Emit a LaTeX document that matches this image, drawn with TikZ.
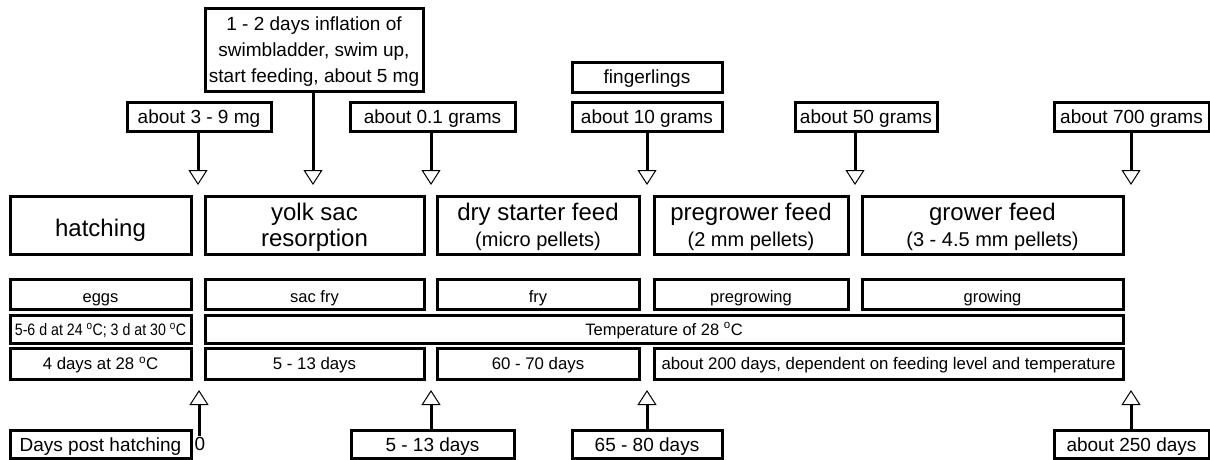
\documentclass[tikz,border=0pt]{standalone}
\usepackage{fontspec}
\usepackage{graphicx}
\setmainfont{Liberation Sans}
\usetikzlibrary{arrows.meta}
\begin{document}
\begin{tikzpicture}[x=1pt,y=-1pt,
  bx/.style={draw,line width=3pt,inner sep=0pt,align=center,fill=white},
  span/.style args={#1/#2/#3/#4}{minimum width={(#3-#1)*1pt},minimum height={(#4-#2)*1pt},at={({(#1+#3)/2},{(#2+#4)/2})}},
  arr/.style={line width=3pt,-{Triangle[open,length=15pt,width=19pt,line width=1pt]}},
  fa/.style={font=\fontsize{19}{26}\selectfont},
  toplab/.style={fa,text height=13pt,text depth=0pt},
  botlab/.style={fa,text height=15pt,text depth=0pt},
  fb/.style={font=\fontsize{24}{26}\selectfont},
  title/.style={fb,text depth=-5pt},
  fc/.style={font=\fontsize{16.5}{20}\selectfont},
  stage/.style={fc,text height=16pt,text depth=0pt},
  tmp/.style={fc,text height=12pt,text depth=0pt},
  fd/.style={font=\fontsize{16.8}{20}\selectfont,text height=12pt,text depth=0pt}]
\useasboundingbox (0,0) rectangle (1210,459);
% top labels
\node[bx,fa,text depth=-1pt,span=205/8/423/91] (top1) {1 - 2 days inflation of\\swimbladder, swim up,\\start feeding, about 5 mg};
\node[bx,toplab,span=127/102/271/131] (m39) {about 3 - 9 mg};
\node[bx,toplab,span=350/102/515/131] (g01) {about 0.1 grams};
\node[bx,toplab,span=572/62/722/92] (fing) {fingerlings};
\node[bx,toplab,span=572/102/722/131] (g10) {about 10 grams};
\node[bx,toplab,span=795/102/937/131] (g50) {about 50 grams};
\node[bx,toplab,span=1054/102/1209/131] (g700) {about 700 grams};
% arrow tips (top)
\coordinate (t1) at (198,185);
\coordinate (t2) at (313,185);
\coordinate (t3) at (431,185);
\coordinate (t4) at (647,185);
\coordinate (t5) at (855,185);
\coordinate (t6) at (1131,185);
\draw[arr] (t1 |- m39.south) -- (t1);
\draw[arr] (t2 |- top1.south) -- (t2);
\draw[arr] (t3 |- g01.south) -- (t3);
\draw[arr] (t4 |- g10.south) -- (t4);
\draw[arr] (t5 |- g50.south) -- (t5);
\draw[arr] (t6 |- g700.south) -- (t6);
% row 1
\node[bx,fb,text height=22pt,text depth=0pt,span=10/196/191/254] (hatch) {hatching};
\node[bx,title,span=205/196/424/254] (yolk) {yolk sac\\resorption};
\node[bx,title,span=437/196/639/254] (dry) {dry starter feed\\{\fontsize{20}{26}\selectfont (micro pellets)}};
\node[bx,title,span=654/196/848/254] (preg) {pregrower feed\\{\fontsize{20}{26}\selectfont (2 mm pellets)}};
\node[bx,title,span=862/196/1123/254] (grow) {grower feed\\{\fontsize{20}{26}\selectfont (3 - 4.5 mm pellets)}};
% row 2
\node[bx,stage,span=10/279/191/309] (eggs) {eggs};
\node[bx,stage,span=205/279/424/309] (sacfry) {sac fry};
\node[bx,stage,span=437/279/639/309] (fry) {fry};
\node[bx,stage,span=654/279/848/309] (pregrowing) {pregrowing};
\node[bx,stage,span=862/279/1123/309] (growing) {growing};
% row 3
\node[bx,tmp,text height=13pt,span=10/315/191/343] (temp1) {\scalebox{0.86}[1]{5-6 d at 24 \textsuperscript{o}C; 3 d at 30 \textsuperscript{o}C}};
\node[bx,tmp,span=205/315/1123/343] (temp2) {Temperature of 28 \textsuperscript{o}C};
% row 4
\node[bx,fd,span=10/348/191/379] (dur1) {4 days at 28 \textsuperscript{o}C};
\node[bx,fd,span=205/348/424/379] (dur2) {5 - 13 days};
\node[bx,fd,span=437/348/639/379] (dur3) {60 - 70 days};
\node[bx,fd,span=654/348/1123/379] (dur4) {about 200 days, dependent on feeding level and temperature};
% bottom
\node[bx,botlab,span=10/430/191/458] (dph) {Days post hatching};
\node[fa,inner sep=1pt,anchor=north] (zero) at (200,436) {0};
\node[bx,botlab,span=351/430/514/458] (d513) {5 - 13 days};
\node[bx,botlab,span=572/430/722/458] (d6580) {65 - 80 days};
\node[bx,botlab,span=1054/430/1209/458] (d250) {about 250 days};
\coordinate (b1) at (199,390);
\coordinate (b2) at (431,390);
\coordinate (b3) at (647,390);
\coordinate (b4) at (1131,390);
\draw[arr] (b1 |- zero.north) -- (b1);
\draw[arr] (b2 |- d513.north) -- (b2);
\draw[arr] (b3 |- d6580.north) -- (b3);
\draw[arr] (b4 |- d250.north) -- (b4);
\end{tikzpicture}
\end{document}
